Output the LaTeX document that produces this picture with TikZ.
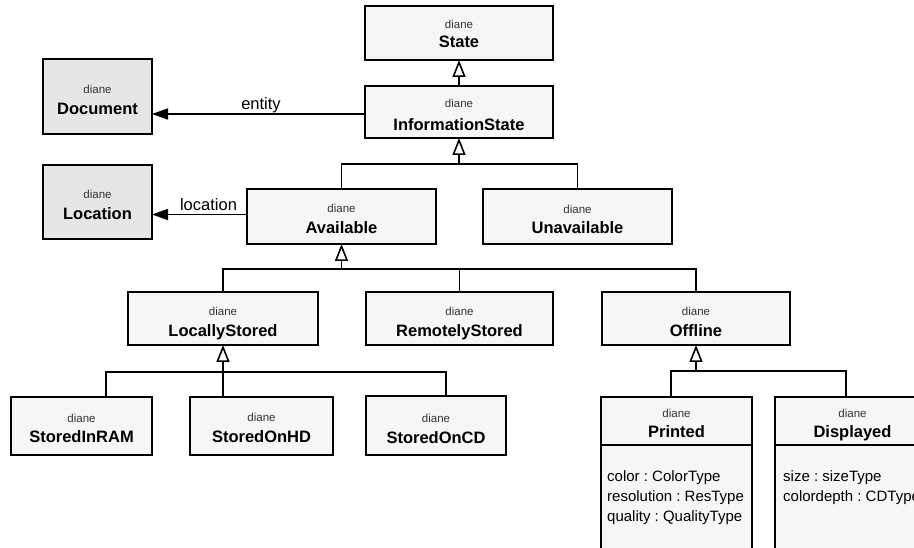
\documentclass[tikz,border=0pt]{standalone}
\usepackage{fontspec}
\setmainfont{Liberation Sans}
\usetikzlibrary{arrows.meta}
\definecolor{clsfill}{HTML}{F6F6F6}
\definecolor{entfill}{HTML}{E6E6E6}
\definecolor{stcol}{HTML}{333333}
\frenchspacing
\begin{document}
\begin{tikzpicture}[x=1pt,y=-1pt,
  box/.style={draw=black, line width=1.6pt, fill=clsfill, inner sep=0pt, outer sep=0pt},
  ent/.style={box, fill=entfill},
  stereo/.style={font=\fontsize{11.5}{13}\selectfont, text=stcol, inner sep=0pt, text height=8.3pt, text depth=0pt},
  cname/.style={font=\fontsize{16.5}{18}\selectfont\bfseries, inner sep=0pt, text height=11.8pt, text depth=0pt},
  attr/.style={font=\fontsize{15}{18}\selectfont\frenchspacing, inner sep=0pt, anchor=base west},
  lbl/.style={font=\fontsize{16.5}{18}\selectfont, inner sep=0pt, anchor=base},
  conn/.style={line width=1.6pt},
  gen/.style={conn, -{Triangle[open, length=17pt, width=13pt]}},
  assoc/.style={conn, -{Triangle[length=16pt, width=11pt]}},
]
\useasboundingbox (0,0) rectangle (914,548);
\clip (0,0) rectangle (914,548);
\fill[white] (0,0) rectangle (914,548);

% classes
\node[box, minimum width=188pt, minimum height=54pt] (state) at (459,33) {};
\node[stereo] (state-s) at (459,24) {diane};
\node[cname] (state-n) at (459,42) {State};

\node[box, minimum width=188pt, minimum height=52pt] (info) at (459,112) {};
\node[stereo] (info-s) at (459,103) {diane};
\node[cname] (info-n) at (459,125) {InformationState};

\node[ent, minimum width=109pt, minimum height=75pt] (doc) at (97.5,96.5) {};
\node[stereo] (doc-s) at (97.5,89) {diane};
\node[cname] (doc-n) at (97.5,109) {Document};

\node[ent, minimum width=109pt, minimum height=74pt] (loc) at (97.5,202) {};
\node[stereo] (loc-s) at (97.5,194) {diane};
\node[cname] (loc-n) at (97.5,214) {Location};

\node[box, minimum width=189pt, minimum height=55pt] (avail) at (341.5,216.5) {};
\node[stereo] (avail-s) at (341.5,208) {diane};
\node[cname] (avail-n) at (341.5,228) {Available};

\node[box, minimum width=189pt, minimum height=55pt] (unavail) at (577.5,216.5) {};
\node[stereo] (unavail-s) at (577.5,209) {diane};
\node[cname] (unavail-n) at (577.5,228) {Unavailable};

\node[box, minimum width=190pt, minimum height=53pt] (local) at (223,318.5) {};
\node[stereo] (local-s) at (223,311) {diane};
\node[cname] (local-n) at (223,331) {LocallyStored};

\node[box, minimum width=187pt, minimum height=53pt] (remote) at (459.5,318.5) {};
\node[stereo] (remote-s) at (459.5,311) {diane};
\node[cname] (remote-n) at (459.5,331) {RemotelyStored};

\node[box, minimum width=188pt, minimum height=53pt] (offline) at (696,318.5) {};
\node[stereo] (offline-s) at (696,311) {diane};
\node[cname] (offline-n) at (696,331) {Offline};

\node[box, minimum width=141pt, minimum height=58pt] (ram) at (81.5,426) {};
\node[stereo] (ram-s) at (81.5,418) {diane};
\node[cname] (ram-n) at (81.5,437) {StoredInRAM};

\node[box, minimum width=143pt, minimum height=58pt] (hd) at (261.5,426) {};
\node[stereo] (hd-s) at (261.5,417) {diane};
\node[cname] (hd-n) at (261.5,437) {StoredOnHD};

\node[box, minimum width=140pt, minimum height=59pt] (cd) at (436,425.5) {};
\node[stereo] (cd-s) at (436,418) {diane};
\node[cname] (cd-n) at (436,438) {StoredOnCD};

\node[box, minimum width=151pt, minimum height=163pt] (printed) at (676.5,478.5) {};
\node[stereo] (printed-s) at (676.5,413) {diane};
\node[cname] (printed-n) at (676.5,432) {Printed};

\node[box, minimum width=155pt, minimum height=163pt] (displayed) at (852.5,478.5) {};
\node[stereo] (displayed-s) at (852.5,413) {diane};
\node[cname] (displayed-n) at (852.5,432) {Displayed};

\coordinate (sep) at (0,445);
\draw[conn] (printed.west |- sep) -- (printed.east |- sep);
\draw[conn] (displayed.west |- sep) -- (displayed.east |- sep);

\node[attr] (p-a1) at (607,481.5) {color : ColorType};
\node[attr] (p-a2) at (607,501.5) {resolution : ResType};
\node[attr] (p-a3) at (607,521) {quality : QualityType};
\node[attr] (d-a1) at (783,481.5) {size : sizeType};
\node[attr] (d-a2) at (783,501.5) {colordepth : CDType};

% associations
\draw[assoc] ([yshift=-2pt]info.west) -- ([yshift=-2pt]info.west -| doc.east);
\node[lbl] (entlbl) at (261,110) {entity};
\draw[assoc] ([yshift=2pt]avail.west) -- ([yshift=2pt]avail.west -| loc.east);
\node[lbl] (loclbl) at (208.5,211) {location};

% generalizations
\draw[gen] (info.north) -- (state.south);

\coordinate (j1) at (459,164);
\draw[conn] (avail.north) |- (j1) -| (unavail.north);
\draw[gen] (j1) -- (info.south);

\coordinate (j2) at (341.5,269);
\draw[conn] (local.north) |- (offline.north |- j2) -- (offline.north);
\draw[conn] (remote.north) -- (remote.north |- j2);
\draw[gen] (j2) -- (avail.south);

\coordinate (j3) at (223,372);
\draw[conn] ([xshift=24.5pt]ram.north) |- ([xshift=10pt]cd.north |- j3) -- ([xshift=10pt]cd.north);
\draw[gen] (j3 |- hd.north) -- (local.south);

\coordinate (j4) at (696,371);
\draw[conn] ([xshift=-5.5pt]printed.north) |- ([xshift=-6.5pt]displayed.north |- j4) -- ([xshift=-6.5pt]displayed.north);
\draw[gen] (j4) -- (offline.south);
\end{tikzpicture}
\end{document}
